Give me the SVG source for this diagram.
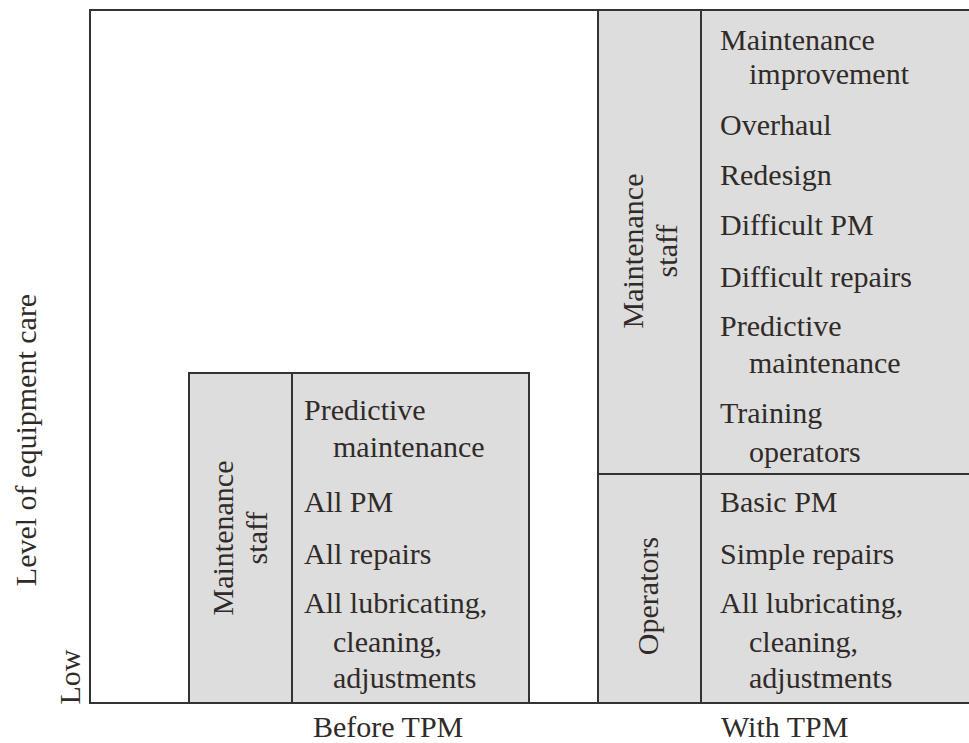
<svg xmlns="http://www.w3.org/2000/svg" width="969" height="743" viewBox="0 0 969 743">
  <style>
    .cell { fill: #dddddd; stroke: #333333; stroke-width: 2; }
    .axis { fill: none; stroke: #333333; stroke-width: 2; }
    text { font-family: "Liberation Serif", "Times New Roman", serif; font-size: 30px; fill: #302b28; }
    .mid { text-anchor: middle; }
  </style>

  <rect width="969" height="743" fill="#ffffff"/>

  <!-- axis frame -->
  <g id="frame">
    <polyline class="axis" points="969,10 90,10 90,703 969,703"/>
    <text class="mid" transform="translate(36,440) rotate(-90)">Level of equipment care</text>
    <text class="mid" transform="translate(80,677) rotate(-90)">Low</text>
    <text x="313" y="737">Before TPM</text>
    <text x="721" y="737">With TPM</text>
  </g>

  <!-- Before TPM: maintenance staff does everything -->
  <g id="before-staff">
    <rect class="cell" x="189" y="373" width="103" height="330"/>
    <text class="mid" transform="translate(233,538) rotate(-90)">Maintenance</text>
    <text class="mid" transform="translate(267,538) rotate(-90)">staff</text>
  </g>
  <g id="before-tasks">
    <rect class="cell" x="292" y="373" width="237" height="330"/>
    <text x="304" y="420">Predictive</text>
    <text x="333" y="457">maintenance</text>
    <text x="304" y="512">All PM</text>
    <text x="304" y="564">All repairs</text>
    <text x="304" y="613">All lubricating,</text>
    <text x="333" y="652">cleaning,</text>
    <text x="333" y="688">adjustments</text>
  </g>

  <!-- With TPM: maintenance staff -->
  <g id="with-staff">
    <rect class="cell" x="598" y="10" width="103" height="464"/>
    <text class="mid" transform="translate(643,251) rotate(-90)">Maintenance</text>
    <text class="mid" transform="translate(677,251) rotate(-90)">staff</text>
  </g>
  <g id="with-staff-tasks">
    <rect class="cell" x="701" y="10" width="270" height="464"/>
    <text x="720" y="50">Maintenance</text>
    <text x="749" y="84">improvement</text>
    <text x="720" y="135">Overhaul</text>
    <text x="720" y="185">Redesign</text>
    <text x="720" y="235">Difficult PM</text>
    <text x="720" y="287">Difficult repairs</text>
    <text x="720" y="336">Predictive</text>
    <text x="749" y="373">maintenance</text>
    <text x="720" y="423">Training</text>
    <text x="749" y="462">operators</text>
  </g>

  <!-- With TPM: operators -->
  <g id="with-operators">
    <rect class="cell" x="598" y="474" width="103" height="229"/>
    <text class="mid" transform="translate(658,596) rotate(-90)">Operators</text>
  </g>
  <g id="with-operator-tasks">
    <rect class="cell" x="701" y="474" width="270" height="229"/>
    <text x="720" y="512">Basic PM</text>
    <text x="720" y="564">Simple repairs</text>
    <text x="720" y="613">All lubricating,</text>
    <text x="749" y="652">cleaning,</text>
    <text x="749" y="688">adjustments</text>
  </g>
</svg>
